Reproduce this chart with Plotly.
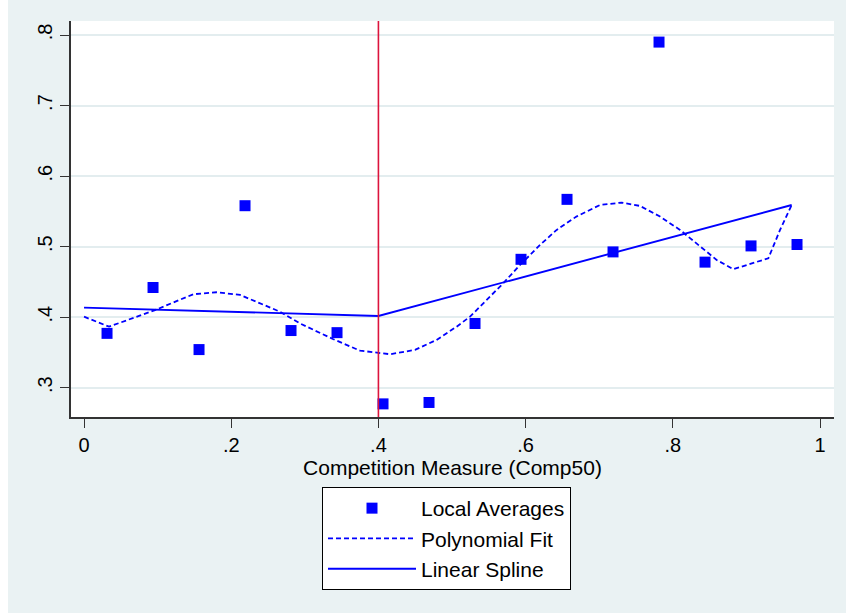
import plotly.graph_objects as go

# Local averages (bin midpoints) and values
avg_x = [0.03125, 0.09375, 0.15625, 0.21875, 0.28125, 0.34375, 0.40625, 0.46875,
         0.53125, 0.59375, 0.65625, 0.71875, 0.78125, 0.84375, 0.90625, 0.96875]
avg_y = [0.377, 0.442, 0.354, 0.558, 0.381, 0.378, 0.277, 0.279,
         0.391, 0.482, 0.567, 0.4925, 0.790, 0.478, 0.501, 0.503]

# Polynomial fit
poly_x = [0.0, 0.034, 0.0965, 0.1485, 0.18, 0.212, 0.266, 0.2935, 0.3388, 0.375,
          0.4158, 0.4497, 0.479, 0.5063, 0.5245, 0.547, 0.5697, 0.5924, 0.6196,
          0.6422, 0.669, 0.701, 0.7305, 0.7554, 0.7826, 0.8098, 0.837, 0.8596,
          0.8822, 0.9049, 0.9298, 0.9457, 0.9615]
poly_y = [0.4006, 0.3865, 0.410, 0.4325, 0.4353, 0.4315, 0.4078, 0.391, 0.3687, 0.3525,
          0.3474, 0.3535, 0.3677, 0.3865, 0.4007, 0.4244, 0.4481, 0.474, 0.5024,
          0.5237, 0.5426, 0.559, 0.5624, 0.5577, 0.5426, 0.5237, 0.5, 0.4811,
          0.468, 0.4754, 0.4835, 0.5237, 0.5591]

# Linear spline with knot at 0.4
spline_x = [0.0, 0.4, 0.9615]
spline_y = [0.4135, 0.4017, 0.559]

cutoff = 0.4

x_ticks = [0, 0.2, 0.4, 0.6, 0.8, 1]
x_tick_labels = ["0", ".2", ".4", ".6", ".8", "1"]
y_ticks = [0.3, 0.4, 0.5, 0.6, 0.7, 0.8]
y_tick_labels = [".3", ".4", ".5", ".6", ".7", ".8"]

BLUE = "#0000FF"
BG = "#EAF2F3"
FONT = "Liberation Sans, Arial, sans-serif"

fig = go.Figure()
fig.add_trace(go.Scatter(x=avg_x, y=avg_y, mode="markers", name="Local Averages",
                         marker=dict(symbol="square", size=11, color=BLUE)))
fig.add_trace(go.Scatter(x=poly_x, y=poly_y, mode="lines", name="Polynomial Fit",
                         line=dict(color=BLUE, width=1.8, dash="5px,3px")))
fig.add_trace(go.Scatter(x=spline_x, y=spline_y, mode="lines", name="Linear Spline",
                         line=dict(color=BLUE, width=1.9)))

fig.add_shape(type="line", xref="x", yref="paper", x0=cutoff, x1=cutoff, y0=0, y1=1,
              line=dict(color="#DC143C", width=1.6), layer="above")
# white strip at left edge of the graph region
fig.add_shape(type="rect", xref="paper", yref="paper", x0=-72/763, x1=-63/763,
              y0=-1, y1=2, fillcolor="white", line=dict(width=0), layer="below")

fig.update_layout(
    width=846, height=613,
    margin=dict(l=71, r=12, t=21, b=196),
    paper_bgcolor=BG, plot_bgcolor="white",
    font=dict(family=FONT, color="black"),
    showlegend=True,
    legend=dict(x=(322-71)/763, xanchor="left", y=(417-487)/396, yanchor="top",
                bgcolor="white", bordercolor="black", borderwidth=1,
                font=dict(size=21, family=FONT, color="black"),
                itemwidth=88, tracegroupgap=0),
    xaxis=dict(range=[-0.0177, 1.019], tickvals=x_ticks, ticktext=x_tick_labels,
               showgrid=False, zeroline=False, showline=True, linecolor="#333333",
               linewidth=1.5, ticks="outside", ticklen=9, tickwidth=1.3,
               tickcolor="#333333", tickfont=dict(size=20, family=FONT),
               title=dict(text="Competition Measure (Comp50)", font=dict(size=21, family=FONT),
                          standoff=2)),
    yaxis=dict(range=[0.2584, 0.8199], tickvals=y_ticks, ticktext=y_tick_labels,
               showgrid=True, gridcolor="#E3EDEF", gridwidth=1.5, zeroline=False,
               showline=True, linecolor="#333333", linewidth=1.5, ticks="outside",
               ticklen=9, tickwidth=1.3, tickcolor="#333333", tickangle=-90,
               tickfont=dict(size=20, family=FONT)),
)

fig.write_html("out.html", config={"displayModeBar": False},
               post_script="document.body.style.margin='0';document.body.style.overflow='hidden';")
